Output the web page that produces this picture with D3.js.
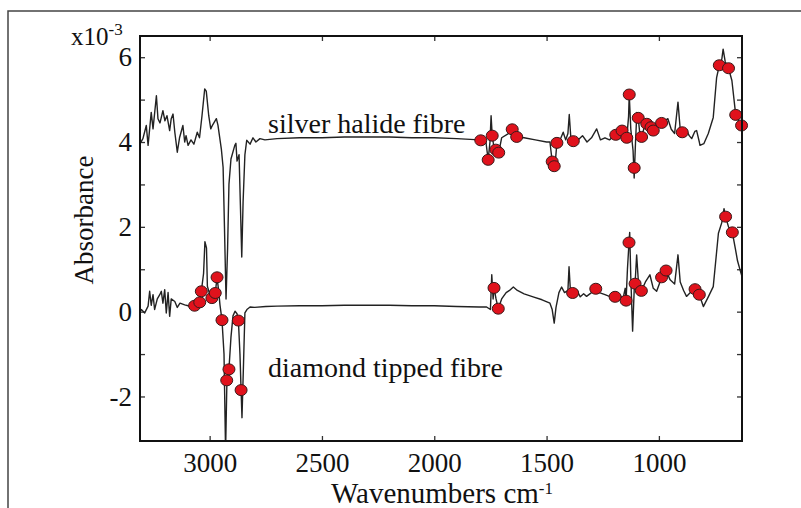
<!DOCTYPE html>
<html>
<head>
<meta charset="utf-8">
<script src="https://cdn.jsdelivr.net/npm/d3@7/dist/d3.min.js"></script>
<style>
  body { margin: 0; background: #fff; }
  text { font-family: "Liberation Serif", "Times New Roman", serif; fill: #111; }
  .spec { fill: none; stroke: #222; stroke-width: 1.4; stroke-linejoin: round; }
  .mark { fill: #e0121c; stroke: #3a1a1a; stroke-width: 1; }
</style>
</head>
<body>
<svg id="chart" width="801" height="508"></svg>
<script>
// tick values
var xTicks = [3000, 2500, 2000, 1500, 1000];
var yTicks = [-2, -1, 0, 1, 2, 3, 4, 5, 6];
var yLabelled = [-2, 0, 2, 4, 6];

// spectra, [wavenumber, absorbance x10^-3]
var silverHalide = [
  [3310, 4.0], [3306, 4.0], [3297, 4.08], [3282, 4.39], [3274, 3.92], [3260, 4.7], [3252, 4.31],
  [3237, 5.09], [3230, 4.55], [3221, 4.45], [3208, 4.74], [3199, 4.5], [3190, 4.62], [3178, 4.27],
  [3171, 4.55], [3163, 4.66], [3155, 4.23], [3144, 3.76], [3134, 4.1], [3119, 4.39], [3111, 4.0],
  [3105, 4.15], [3096, 3.92], [3083, 4.05], [3070, 3.95], [3055, 4.23], [3045, 4.1], [3034, 4.62],
  [3022, 5.25], [3015, 5.2], [3004, 4.62], [2995, 4.31], [2987, 4.4], [2970, 4.55], [2963, 4.4],
  [2948, 3.84], [2940, 3.4], [2934, 2.0], [2927, 0.3], [2920, 1.5], [2914, 3.0], [2905, 3.6],
  [2888, 3.92], [2883, 3.97], [2878, 3.55], [2869, 3.7], [2863, 2.5], [2857, 1.29], [2851, 2.6],
  [2843, 3.7], [2835, 4.04], [2820, 3.95], [2807, 4.1], [2794, 4.0], [2776, 4.08], [2754, 4.05],
  [2700, 4.08], [2600, 4.1], [2500, 4.1], [2400, 4.12], [2300, 4.12], [2200, 4.12], [2100, 4.1],
  [2000, 4.1], [1900, 4.08], [1800, 4.05], [1793, 4.04], [1770, 4.0], [1760, 3.58], [1752, 4.0],
  [1747, 4.62], [1742, 4.15], [1735, 3.9], [1726, 3.82], [1713, 3.75], [1700, 4.1], [1670, 4.2],
  [1653, 4.3], [1633, 4.12], [1600, 4.1], [1550, 4.05], [1500, 4.0], [1485, 4.0], [1475, 3.54],
  [1466, 3.43], [1460, 3.6], [1454, 3.98], [1440, 4.05], [1426, 4.23], [1415, 4.05], [1405, 4.2],
  [1399, 4.65], [1392, 4.1], [1381, 4.02], [1360, 4.05], [1340, 4.15], [1320, 4.0], [1300, 4.1],
  [1277, 4.31], [1260, 4.05], [1240, 4.1], [1220, 4.05], [1192, 4.17], [1170, 4.25], [1164, 4.27],
  [1150, 4.15], [1143, 4.1], [1135, 4.6], [1132, 5.12], [1125, 4.3], [1115, 3.8], [1110, 3.15],
  [1104, 4.0], [1098, 4.7], [1092, 4.57], [1085, 4.2], [1077, 4.12], [1065, 4.35], [1054, 4.43],
  [1040, 4.35], [1032, 4.39], [1025, 4.29], [1010, 4.4], [988, 4.46], [975, 4.5], [960, 4.55],
  [945, 4.3], [930, 4.2], [915, 4.94], [905, 4.3], [896, 4.25], [880, 4.3], [865, 4.15], [854, 4.08],
  [840, 4.25], [832, 4.27], [820, 4.0], [817, 3.92], [800, 3.96], [780, 4.2], [758, 4.58],
  [743, 5.52], [731, 5.81], [720, 5.95], [714, 6.19], [705, 5.9], [690, 5.74], [675, 5.45],
  [658, 4.64], [645, 4.5], [632, 4.39], [630, 4.35]
];

var diamondTipped = [
  [3310, 0.0], [3304, 0.05], [3289, -0.03], [3274, 0.13], [3267, 0.48], [3260, 0.15], [3252, 0.4],
  [3245, 0.05], [3233, 0.3], [3222, 0.4], [3215, 0.48], [3208, 0.2], [3200, 0.52], [3193, -0.03],
  [3185, 0.45], [3178, -0.11], [3171, 0.3], [3155, 0.24], [3144, 0.1], [3132, 0.2], [3111, 0.16],
  [3096, 0.14], [3083, 0.12], [3067, 0.14], [3044, 0.22], [3037, 0.48], [3027, 0.9], [3021, 1.65],
  [3014, 1.5], [3010, 0.6], [3002, 0.45], [2990, 0.32], [2975, 0.44], [2967, 0.81], [2960, 0.5],
  [2954, 0.16], [2945, -0.2], [2936, -1.0], [2929, -3.3], [2923, -1.62], [2914, -1.36], [2905, -0.6],
  [2896, -0.1], [2887, 0.01], [2878, -0.05], [2872, -0.21], [2865, -1.0], [2860, -1.85], [2856, -2.5],
  [2849, -1.2], [2843, -0.03], [2834, 0.05], [2820, 0.11], [2800, 0.1], [2750, 0.12], [2700, 0.13],
  [2600, 0.14], [2500, 0.14], [2400, 0.15], [2300, 0.15], [2200, 0.15], [2100, 0.14], [2000, 0.14],
  [1900, 0.12], [1800, 0.11], [1767, 0.11], [1750, 0.05], [1744, 0.87], [1738, 0.3], [1734, 0.56],
  [1725, 0.3], [1715, 0.07], [1700, 0.3], [1680, 0.45], [1665, 0.5], [1648, 0.58], [1630, 0.5],
  [1600, 0.42], [1560, 0.35], [1520, 0.28], [1485, 0.2], [1475, 0.05], [1466, -0.27], [1458, 0.1],
  [1445, 0.45], [1433, 0.58], [1420, 0.45], [1405, 0.5], [1400, 1.06], [1394, 0.5], [1384, 0.44],
  [1365, 0.5], [1350, 0.35], [1335, 0.42], [1322, 0.36], [1300, 0.45], [1281, 0.54], [1265, 0.45],
  [1240, 0.4], [1215, 0.35], [1195, 0.35], [1175, 0.4], [1160, 0.3], [1150, 0.55], [1146, 0.26],
  [1140, 1.0], [1133, 1.63], [1130, 1.87], [1125, 0.8], [1117, -0.46], [1110, 0.5], [1106, 0.66],
  [1099, 1.34], [1090, 0.6], [1078, 0.49], [1060, 0.7], [1040, 0.87], [1025, 0.55], [1010, 0.48],
  [995, 0.7], [988, 0.81], [968, 0.97], [950, 0.75], [930, 0.65], [915, 1.34], [905, 0.7],
  [890, 0.5], [877, 0.36], [860, 0.45], [839, 0.53], [820, 0.4], [802, 0.12], [780, 0.35],
  [758, 0.59], [745, 1.3], [735, 1.85], [720, 2.1], [710, 2.43], [703, 2.24], [690, 2.0],
  [673, 1.87], [660, 1.5], [650, 1.2], [639, 0.99], [630, 0.83]
];

// red dots marked on each spectrum
var silverDots = [
  [1793, 4.04], [1760, 3.58], [1742, 4.15], [1726, 3.82], [1713, 3.75], [1653, 4.3], [1633, 4.12],
  [1475, 3.54], [1466, 3.43], [1454, 3.98], [1381, 4.02], [1192, 4.17], [1164, 4.27], [1143, 4.1],
  [1132, 5.12], [1110, 3.39], [1092, 4.57], [1077, 4.12], [1054, 4.43], [1035, 4.35], [1025, 4.27],
  [988, 4.45], [896, 4.23], [731, 5.81], [690, 5.74], [658, 4.64], [632, 4.39]
];
var diamondDots = [
  [3067, 0.14], [3044, 0.22], [3037, 0.48], [2990, 0.32], [2975, 0.44], [2967, 0.81], [2945, -0.2],
  [2924, -1.62], [2914, -1.36], [2872, -0.21], [2860, -1.85], [1734, 0.56], [1715, 0.07],
  [1384, 0.44], [1281, 0.54], [1195, 0.35], [1146, 0.26], [1133, 1.63], [1106, 0.66], [1078, 0.49],
  [988, 0.81], [968, 0.97], [839, 0.53], [820, 0.4], [703, 2.24], [673, 1.87]
];

var margin = { left: 140, top: 36, right: 59, bottom: 67 },
    width = 801 - margin.left - margin.right,
    height = 508 - margin.top - margin.bottom;

var svg = d3.select("#chart");

// outer figure border (left + top only are visible)
svg.append("path").attr("d", "M8,508V11H801")
  .attr("fill", "none").attr("stroke", "#444").attr("stroke-width", 1.5);

var g = svg.append("g").attr("transform", "translate(" + margin.left + "," + margin.top + ")");

var x = d3.scaleLinear().domain([3310, 630]).range([0, width]);
var y = d3.scaleLinear().domain([-3.05, 6.5]).range([height, 0]);

g.append("clipPath").attr("id", "clip")
  .append("rect").attr("width", width).attr("height", height);

var fmt = function (d) { return String(d).replace("\u2212", "-"); };

// axes, ticks pointing inward
g.append("g").attr("transform", "translate(0," + height + ")")
  .call(d3.axisBottom(x).tickValues(xTicks).tickSize(-5).tickPadding(12).tickFormat(fmt));
g.append("g")
  .call(d3.axisTop(x).tickValues(xTicks).tickSize(-5).tickFormat(""));
g.append("g")
  .call(d3.axisLeft(y).tickValues(yTicks).tickSize(-5).tickPadding(8)
    .tickFormat(function (d) { return yLabelled.indexOf(d) > -1 ? fmt(d) : ""; }));
g.append("g").attr("transform", "translate(" + width + ",0)")
  .call(d3.axisRight(y).tickValues(yTicks).tickSize(-5).tickFormat(""));

g.selectAll(".domain").remove();
g.selectAll(".tick line").attr("stroke", "#333").attr("stroke-width", 1.3);
g.selectAll(".tick text").attr("font-size", 27).attr("fill", "#111")
  .attr("font-family", "Liberation Serif, Times New Roman, serif");

var line = d3.line().x(function (d) { return x(d[0]); }).y(function (d) { return y(d[1]); });

var plot = g.append("g").attr("clip-path", "url(#clip)");
plot.append("path").datum(silverHalide).attr("class", "spec").attr("d", line);
plot.append("path").datum(diamondTipped).attr("class", "spec").attr("d", line);

g.append("g").selectAll("ellipse").data(silverDots.concat(diamondDots)).enter()
  .append("ellipse").attr("class", "mark")
  .attr("cx", function (d) { return x(d[0]); })
  .attr("cy", function (d) { return y(d[1]); })
  .attr("rx", 6).attr("ry", 5.5);

// plot frame
g.append("rect").attr("width", width).attr("height", height)
  .attr("fill", "none").attr("stroke", "#111").attr("stroke-width", 2);

// series labels
g.append("text").attr("x", 128).attr("y", 97).attr("font-size", 28).text("silver halide fibre");
g.append("text").attr("x", 128).attr("y", 341).attr("font-size", 28).text("diamond tipped fibre");

// axis titles
var xt = svg.append("text").attr("x", 442).attr("y", 503).attr("text-anchor", "middle").attr("font-size", 29);
xt.append("tspan").text("Wavenumbers cm");
xt.append("tspan").attr("font-size", 17).attr("dy", -9).text("-1");

svg.append("text").attr("transform", "translate(93,220) rotate(-90)")
  .attr("text-anchor", "middle").attr("font-size", 27).text("Absorbance");

var sc = svg.append("text").attr("x", 71).attr("y", 45).attr("font-size", 25);
sc.append("tspan").text("x10");
sc.append("tspan").attr("font-size", 17).attr("dy", -10).text("-3");
</script>
</body>
</html>
